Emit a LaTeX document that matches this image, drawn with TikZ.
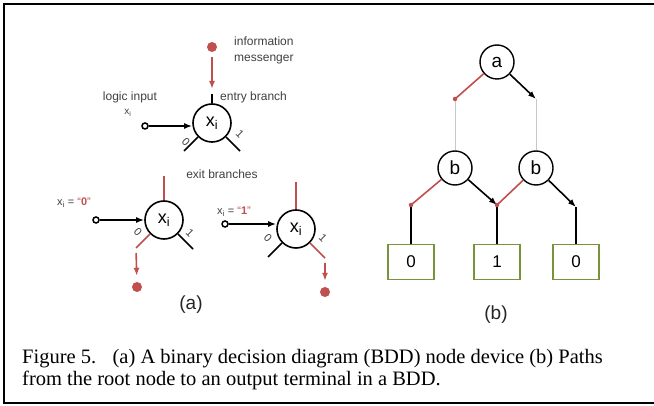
\documentclass[tikz,border=0pt]{standalone}
\usepackage{fontspec}
\setmainfont{Liberation Serif}
\setsansfont{Liberation Sans}
\usetikzlibrary{positioning, arrows.meta}

\definecolor{BranchRed}{HTML}{C0504D}
\definecolor{TerminalGreen}{HTML}{77933C}
\colorlet{LabelGray}{black!75}
\colorlet{PassLine}{black!22}

\tikzset{
  device/.style={circle, draw, line width=1.6, minimum size=38, inner sep=0,
    font=\sffamily\fontsize{18}{18}\selectfont},
  bddnode/.style={circle, draw, line width=1.4, minimum size=34, inner sep=0,
    font=\sffamily\fontsize{19}{19}\selectfont},
  terminal/.style={draw=TerminalGreen, line width=1.8, minimum width=46,
    minimum height=35, inner sep=0, font=\sffamily\fontsize{17}{17}\selectfont},
  lbl/.style={font=\sffamily\fontsize{12}{16}\selectfont, text=LabelGray, inner sep=0},
  branchlbl/.style={lbl, rotate=-45, font=\sffamily\fontsize{11}{11}\selectfont},
  partlbl/.style={font=\sffamily\fontsize{19}{19}\selectfont, text=black!85},
  branch/.style={line width=1.6},
  redbranch/.style={line width=1.6, draw=BranchRed},
  passline/.style={line width=1, draw=PassLine},
  messenger/.style={circle, fill=BranchRed, minimum size=10, inner sep=0},
  inport/.style={circle, draw, line width=1.5, minimum size=6, inner sep=0, fill=white},
  flow/.style={-{Latex[length=8,width=6]}},
  joint/.style={circle, fill=BranchRed, minimum size=4.5, inner sep=0},
  captionline/.style={anchor=base west, inner sep=0, font=\fontsize{20.5}{22}\selectfont},
}

\newcommand{\xsub}{x\textsubscript{i}}

\begin{document}
\begin{tikzpicture}[x=1pt, y=-1pt]

\useasboundingbox (0,0) rectangle (654,406);
\fill[white] (0,0) rectangle (654,406);
\draw[line width=2] (654,4) -- (4,4) -- (4,403) -- (654,403);

%% (a) node device

% device with entry branch
\node[device] (xTop) at (212,123) {\xsub};
\draw[branch] (xTop.north) -- ++(0,-9) coordinate (entryTop);
\node[lbl, anchor=west] (entryTxt) at (220,97) {entry branch};
\node[messenger] (msgTop) at (212,47) {};
\coordinate (msgTopEnd) at (212,89);
\draw[flow, redbranch, shorten <=5pt] (msgTop) -- (msgTopEnd);
\node[lbl, anchor=north west, align=left] (msgTxt) at (234,37) {information\\messenger};

\node[lbl] (inputTxt) at (130,97) {logic input};
\node[lbl, font=\sffamily\fontsize{10}{10}\selectfont] (inputVar) at (128,113) {\xsub};
\node[inport] (inTop) at (145,126) {};
\draw[branch, flow] (inTop) -- (inTop -| xTop.west);

\draw[branch] (xTop.-135) -- ++(-14,14) coordinate (exitTopZero);
\draw[branch] (xTop.-45) -- ++(14,14) coordinate (exitTopOne);
\node[branchlbl] (zeroTop) at (186,142) {0};
\node[branchlbl] (oneTop) at (240,134) {1};

\node[lbl] (exitTxt) at (222,174) {exit branches};

% device with x_i = 0
\node[device] (xZero) at (164,220) {\xsub};
\draw[redbranch] (xZero.north) -- ++(0,-24) coordinate (entryZero);
\node[lbl, font=\sffamily\fontsize{11}{11}\selectfont] (valZero) at (74,203)
  {\xsub{} = \textcolor{BranchRed}{``\textbf{0}''}};
\node[inport] (inZero) at (96,220) {};
\draw[branch, flow] (inZero) -- (inZero -| xZero.west);

\draw[redbranch] (xZero.-135) -- ++(-14,14) coordinate (exitZeroZero);
\draw[branch] (xZero.-45) -- ++(15,15) coordinate (exitZeroOne);
\node[branchlbl] (zeroZero) at (138,232) {0};
\node[branchlbl] (oneZero) at (190,233) {1};
\node[messenger] (msgZero) at (137,287) {};
\draw[flow, redbranch, shorten <=5pt, shorten >=6pt] (exitZeroZero) -- (msgZero);

% device with x_i = 1
\node[device] (xOne) at (296,229) {\xsub};
\draw[redbranch] (xOne.north) -- ++(0,-27) coordinate (entryOne);
\node[lbl, font=\sffamily\fontsize{11}{11}\selectfont] (valOne) at (234,212)
  {\xsub{} = \textcolor{BranchRed}{``\textbf{1}''}};
\node[inport] (inOne) at (225,224) {};
\draw[branch, flow] (inOne) -- (inOne -| xOne.west);

\draw[branch] (xOne.-135) -- ++(-14,14) coordinate (exitOneZero);
\draw[redbranch] (xOne.-45) -- ++(15,15) coordinate (exitOneOne);
\node[branchlbl] (zeroOne) at (268,238) {0};
\node[branchlbl] (oneOne) at (323,238) {1};
\node[messenger] (msgOne) at (325,292) {};
\draw[flow, redbranch, shorten <=5pt, shorten >=6pt] (exitOneOne) -- (msgOne);

\node[partlbl] (capA) at (191,305) {(a)};

%% (b) paths in a BDD

\node[bddnode] (a) at (497,62) {a};
\node[bddnode] (bL) at (455,168) {b};
\node[bddnode] (bR) at (536,168) {b};
\node[terminal] (t0) at (411,262) {0};
\node[terminal] (t1) at (497,262) {1};
\node[terminal] (t2) at (576,262) {0};

\coordinate (jaL) at (455,99);
\coordinate (jaR) at (536,99);
\coordinate (jbL) at (411,205);
\coordinate (jMid) at (497,205);
\coordinate (jbR) at (576,207);

% from the root
\draw[redbranch] (a) -- (jaL);
\draw[passline] (jaL) -- (bL);
\draw[branch, flow] (a) -- (jaR);
\draw[passline] (jaR) -- (bR);

% from the b nodes
\draw[redbranch] (bL) -- (jbL);
\draw[branch] (jbL) -- (t0);
\draw[branch, flow] (bL) -- (jMid);
\draw[redbranch] (bR) -- (jMid);
\draw[branch] (jMid) -- (t1);
\draw[branch, flow] (bR) -- (jbR);
\draw[branch] (jbR) -- (t2);

\node[joint] at (jaL) {};
\node[joint] at (jbL) {};
\node[joint] at (jMid) {};

\node[partlbl] (capB) at (496,315) {(b)};

%% caption
\node[captionline] (captionOne) at (22,363)
  {Figure 5.\hspace{0.8em}(a) A binary decision diagram (BDD) node device (b) Paths};
\node[captionline] (captionTwo) at (22,385)
  {from the root node to an output terminal in a BDD.};

\end{tikzpicture}
\end{document}
